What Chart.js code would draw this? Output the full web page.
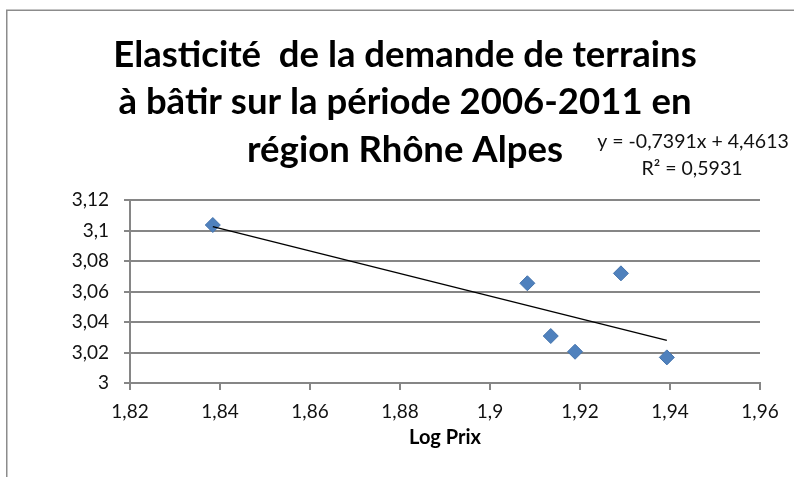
<!DOCTYPE html>
<html lang="fr">
<head>
<meta charset="utf-8">
<title>Elasticité de la demande de terrains</title>
<script src="https://cdn.jsdelivr.net/npm/chart.js@4/dist/chart.umd.min.js"></script>
<style>
  html, body { margin: 0; padding: 0; background: #fff; }
  #box { width: 794px; height: 477px; }
</style>
</head>
<body>
<div id="box"><canvas id="chart" width="794" height="477"></canvas></div>
<script>
/* ===== DATA ===== */
const titleLines = [
  "Elasticité  de la demande de terrains",
  "à bâtir sur la période 2006-2011 en",
  "région Rhône Alpes"
];
const logPrix = [1.8384, 1.9083, 1.9135, 1.9189, 1.9291, 1.9393];
const logDemande = [3.1036, 3.0654, 3.0308, 3.0205, 3.0719, 3.0168];

const xTickLabels = ["1,82", "1,84", "1,86", "1,88", "1,9", "1,92", "1,94", "1,96"];
const yTickLabels = ["3", "3,02", "3,04", "3,06", "3,08", "3,1", "3,12"];

// linear trend (Excel)
const slope = -0.7391;
const intercept = 4.4613;
const equationLines = ["y = -0,7391x + 4,4613", "R² = 0,5931"];

/* ===== HELPERS ===== */
const GRID = "#868686";
const FONT = "Lato";

const points = logPrix.map((x, i) => ({ x: x, y: logDemande[i] }));
const xMin = Math.min(...logPrix);
const xMax = Math.max(...logPrix);
const trend = [
  { x: xMin, y: slope * xMin + intercept },
  { x: xMax, y: slope * xMax + intercept }
];

/* ===== PLUGINS ===== */
const frame = {
  id: "frame",
  beforeDraw(chart) {
    const ctx = chart.ctx;
    ctx.save();
    ctx.fillStyle = "#fff";
    ctx.fillRect(0, 0, chart.width, chart.height);
    ctx.strokeStyle = "#8c8c8c";
    ctx.lineWidth = 1.5;
    ctx.strokeRect(6.75, 10.25, 900, 900);
    ctx.restore();
  }
};

const equation = {
  id: "equation",
  afterDraw(chart) {
    const ctx = chart.ctx;
    ctx.save();
    ctx.font = "19.5px " + FONT;
    ctx.fillStyle = "#111";
    ctx.textAlign = "center";
    ctx.textBaseline = "middle";
    ctx.fillText(equationLines[0], 693, 142);
    ctx.fillText(equationLines[1], 692, 169);
    ctx.restore();
  }
};

/* ===== CHART ===== */
new Chart(document.getElementById("chart"), {
  type: "scatter",
  data: {
    datasets: [
      {
        type: "line",
        data: trend,
        borderColor: "#000",
        borderWidth: 1.5,
        pointRadius: 0,
        fill: false,
        order: 0
      },
      {
        data: points,
        pointStyle: "rectRot",
        pointRadius: 7.5,
        pointHoverRadius: 7.5,
        backgroundColor: "#4F81BD",
        borderColor: "#4675AE",
        borderWidth: 1,
        order: 1
      }
    ]
  },
  options: {
    responsive: false,
    animation: false,
    layout: { padding: { left: 16, right: 0, top: 0, bottom: 0 } },
    plugins: {
      legend: { display: false },
      tooltip: { enabled: false },
      title: {
        display: true,
        text: titleLines,
        color: "#000",
        font: { family: FONT, size: 36.5, weight: "bold", lineHeight: 47.5 / 36.5 },
        padding: { top: 31, bottom: 26.5 }
      }
    },
    scales: {
      x: {
        type: "linear",
        min: 1.82,
        max: 1.96,
        afterFit(s) { s.height = 94; },
        ticks: {
          stepSize: 0.02,
          color: "#111",
          font: { family: FONT, size: 19 },
          padding: 10,
          maxRotation: 0,
          callback: (v, i) => xTickLabels[i]
        },
        grid: {
          drawOnChartArea: false,
          drawTicks: true,
          tickLength: 7,
          tickColor: GRID,
          lineWidth: 2
        },
        border: { color: GRID, width: 2 },
        title: {
          display: true,
          text: "Log Prix",
          color: "#000",
          font: { family: FONT, size: 20, weight: "bold" },
          padding: { top: 0, bottom: 27 }
        }
      },
      y: {
        type: "linear",
        min: 3,
        max: 3.12,
        afterFit(s) { s.width = 114; },
        ticks: {
          stepSize: 0.02,
          color: "#111",
          font: { family: FONT, size: 19 },
          padding: 15,
          callback: (v, i) => yTickLabels[i]
        },
        grid: {
          color: GRID,
          lineWidth: 2,
          tickLength: 6,
          tickColor: GRID
        },
        border: { color: GRID, width: 2 }
      },
      // spacer on the right so the plot ends at the same place as the frame
      spacer: {
        type: "linear",
        position: "right",
        afterFit(s) { s.width = 34; },
        ticks: { display: false },
        grid: { display: false },
        border: { display: false }
      }
    }
  },
  plugins: [frame, equation]
});
</script>
</body>
</html>
